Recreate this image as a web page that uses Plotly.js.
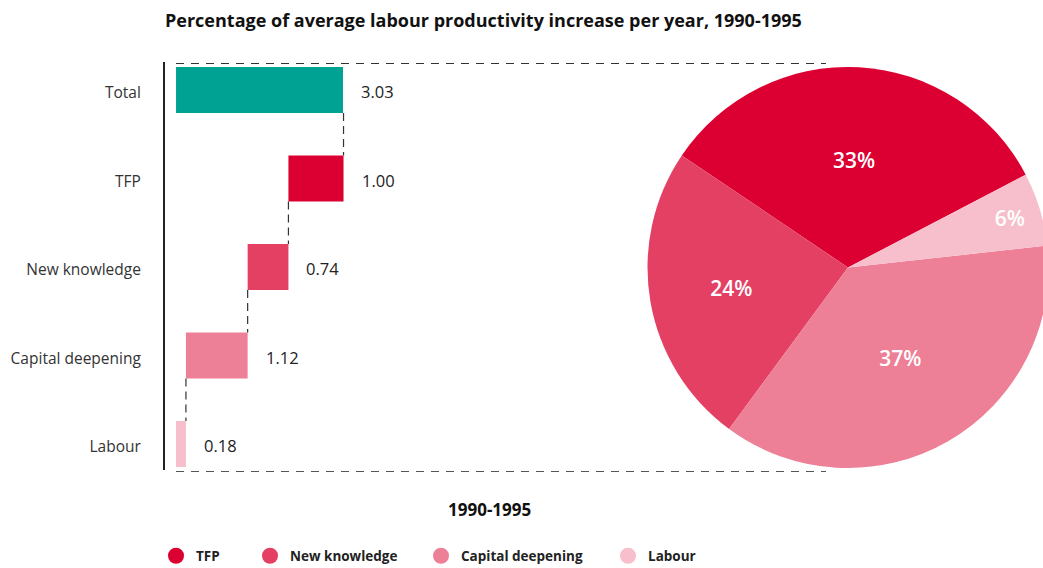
<!DOCTYPE html>
<html>
<head>
<meta charset="utf-8">
<script src="https://cdn.plot.ly/plotly-3.0.1.min.js"></script>
<style>
html,body{margin:0;padding:0;overflow:hidden;background:#fff;width:1043px;height:568px;}
#chart{width:1050px;height:568px;}
</style>
</head>
<body>
<div id="chart"></div>
<script>
// ---- data ----
const categories = ['Total', 'TFP', 'New knowledge', 'Capital deepening', 'Labour'];
const values = [3.03, 1.00, 0.74, 1.12, 0.18];
const valueLabels = ['3.03', '1.00', '0.74', '1.12', '0.18'];
const pieLabels = ['TFP', 'New knowledge', 'Capital deepening', 'Labour'];
const pieValues = [1.00, 0.74, 1.12, 0.18];
const barColors = ['#00a393', '#dc0032', '#e34064', '#ed8096', '#f6bfcb'];
const pieColors = ['#dc0032', '#e34064', '#ed8096', '#f6bfcb'];
const periodLabel = '1990-1995';
const titleText = 'Percentage of average labour productivity increase per year, 1990-1995';

// ---- geometry helpers ----
const W = 1050, H = 568;
const px = v => v / W;
const py = v => (H - v) / H;
const FONT = 'Open Sans, Noto Sans, sans-serif';

// bases: total starts at 0, components stack from the bottom upward
const bases = values.map((v, i) => {
  if (i === 0) return 0;
  let s = 0;
  for (let j = i + 1; j < values.length; j++) s += values[j];
  return s;
});
const ends = values.map((v, i) => bases[i] + v);
const BW = 0.52;

const barTrace = {
  type: 'bar',
  orientation: 'h',
  y: categories,
  x: values,
  base: bases,
  width: BW,
  marker: {color: barColors, line: {width: 0}},
  xaxis: 'x', yaxis: 'y',
  showlegend: false,
  hoverinfo: 'skip'
};

const pieTrace = {
  type: 'pie',
  labels: pieLabels,
  values: pieValues,
  sort: false,
  direction: 'counterclockwise',
  rotation: -56,
  marker: {colors: pieColors, line: {width: 0}},
  texttemplate: '%{percent:.0%}',
  textposition: 'inside',
  insidetextorientation: 'horizontal',
  textfont: {color: '#ffffff', size: 21, family: FONT, weight: 600},
  domain: {x: [px(647.5), px(1048.5)], y: [py(468), py(67)]},
  showlegend: false,
  hoverinfo: 'skip'
};

// legend dummy traces (circle symbols), one legend each
const legendX = [156, 250, 421, 608];
const legendTraces = pieLabels.map((lab, i) => ({
  type: 'scatter', mode: 'markers', x: [null], y: [null],
  name: lab,
  marker: {color: pieColors[i], size: 16, symbol: 'circle'},
  legend: i === 0 ? 'legend' : 'legend' + (i + 1),
  xaxis: 'x', yaxis: 'y',
  hoverinfo: 'skip'
}));

const shapes = [];
// connectors between bars
for (let k = 0; k < categories.length - 1; k++) {
  shapes.push({
    type: 'line', xref: 'x', yref: 'y',
    x0: ends[k + 1], x1: ends[k + 1],
    y0: k + BW / 2, y1: k + 1 - BW / 2,
    line: {color: '#333', width: 1.2, dash: '8px,5px'}
  });
}
// bracket lines towards the pie
shapes.push({type: 'line', xref: 'paper', yref: 'paper', x0: px(176), x1: px(826), y0: py(63.5), y1: py(63.5),
  line: {color: '#333', width: 1.2, dash: '8px,7px'}});
shapes.push({type: 'line', xref: 'paper', yref: 'paper', x0: px(176), x1: px(826), y0: py(471.5), y1: py(471.5),
  line: {color: '#555', width: 1.2, dash: '8px,7px'}});

const annotations = categories.map((c, i) => ({
  xref: 'x', yref: 'y', x: ends[i], y: c,
  text: valueLabels[i], showarrow: false,
  xanchor: 'left', xshift: 16, yshift: -2,
  font: {family: FONT, size: 16.5, color: '#222'}
}));
annotations.push({
  xref: 'paper', yref: 'paper', x: px(489), y: py(509),
  text: '<b>' + periodLabel + '</b>', showarrow: false,
  xanchor: 'center', yanchor: 'middle',
  font: {family: FONT, size: 17, color: '#111'}
});

const legendBase = {
  orientation: 'h', xanchor: 'left', yanchor: 'middle', y: py(556),
  bgcolor: 'rgba(0,0,0,0)', borderwidth: 0,
  font: {family: FONT, size: 13.5, color: '#222', weight: 'bold'},
  itemclick: false, itemdoubleclick: false
};

const layout = {
  width: W, height: H,
  margin: {l: 0, r: 0, t: 0, b: 0, autoexpand: false},
  paper_bgcolor: '#fff', plot_bgcolor: 'rgba(0,0,0,0)',
  title: {
    text: '<b>' + titleText + '</b>',
    x: px(165), xanchor: 'left', xref: 'paper',
    y: py(21), yanchor: 'middle', yref: 'paper',
    font: {family: FONT, size: 18, color: '#111'}
  },
  xaxis: {
    domain: [px(165), px(826)],
    range: [-0.2, 11.796],
    visible: false, fixedrange: true
  },
  yaxis: {
    domain: [py(470), py(62)],
    range: [4.294, -0.316],
    type: 'category',
    categoryorder: 'array', categoryarray: categories,
    showline: true, linecolor: '#222', linewidth: 2,
    showgrid: false, zeroline: false,
    ticks: 'outside', ticklen: 19, tickcolor: 'rgba(0,0,0,0)',
    ticklabelshift: -3,
    tickfont: {family: FONT, size: 15.5, color: '#333'},
    fixedrange: true
  },
  shapes: shapes,
  annotations: annotations,
  showlegend: true,
  legend: Object.assign({}, legendBase, {x: px(legendX[0])}),
  legend2: Object.assign({}, legendBase, {x: px(legendX[1])}),
  legend3: Object.assign({}, legendBase, {x: px(legendX[2])}),
  legend4: Object.assign({}, legendBase, {x: px(legendX[3])}),
  hovermode: false
};

Plotly.newPlot('chart', [barTrace, pieTrace].concat(legendTraces), layout, {displayModeBar: false, staticPlot: true});
</script>
</body>
</html>
